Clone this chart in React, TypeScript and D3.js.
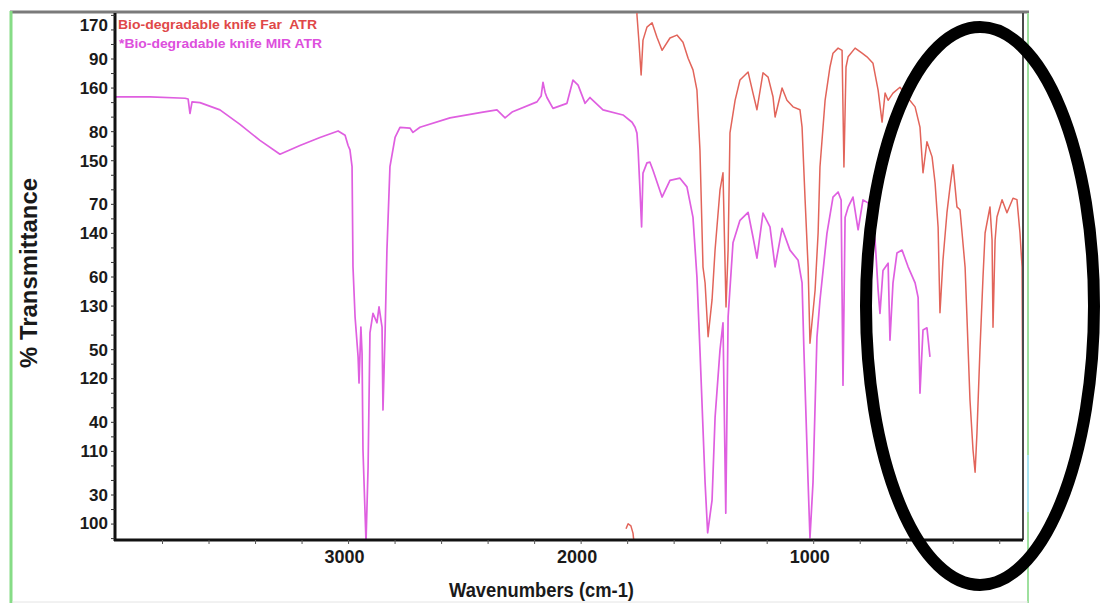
import React from 'react';
import * as d3 from 'd3';

// MIR ATR spectrum: [wavenumber cm-1, %T on MIR scale]
const mirAtr: [number, number][] = [
  [4000, 84.8], [3854, 84.8], [3703, 84.6], [3690, 84.5], [3682, 82.5], [3673, 84.1], [3639, 84.0],
  [3553, 83.0], [3467, 81.0], [3381, 78.8], [3295, 76.9], [3209, 78.1], [3123, 79.2], [3045, 80.1],
  [3015, 79.5], [3002, 78.1], [2994, 77.5], [2985, 75.2], [2981, 61.4], [2972, 54.5], [2959, 49.0],
  [2955, 45.4], [2947, 53.1], [2942, 49.5], [2938, 36.2], [2925, 23.5], [2916, 33.9], [2908, 52.3],
  [2895, 55.0], [2878, 53.7], [2869, 55.9], [2856, 53.1], [2852, 41.7], [2843, 52.3], [2835, 63.7],
  [2822, 75.2], [2800, 79.2], [2779, 80.6], [2736, 80.5], [2723, 79.9], [2693, 80.6], [2564, 81.9],
  [2422, 82.7], [2362, 83.0], [2327, 81.9], [2297, 82.7], [2190, 84.1], [2172, 84.9], [2164, 86.8],
  [2155, 85.4], [2147, 84.7], [2121, 83.2], [2061, 83.9], [2035, 87.1], [2013, 86.4], [1983, 83.9],
  [1962, 84.7], [1906, 83.0], [1820, 82.3], [1781, 81.3], [1768, 80.6], [1760, 79.8], [1755, 77.5],
  [1747, 72.0], [1740, 66.9], [1734, 74.3], [1717, 75.7], [1704, 75.8], [1691, 74.7], [1652, 71.0],
  [1618, 73.3], [1575, 73.6], [1545, 72.4], [1519, 68.2], [1502, 60.0], [1489, 49.9], [1467, 31.7],
  [1456, 24.8], [1437, 29.3], [1424, 40.7], [1403, 49.9], [1390, 53.7], [1378, 27.5], [1368, 54.5],
  [1347, 64.7], [1317, 67.8], [1282, 68.9], [1261, 65.5], [1244, 62.6], [1218, 68.8], [1188, 66.9],
  [1166, 61.4], [1136, 66.7], [1102, 63.7], [1067, 62.3], [1050, 59.2], [1042, 49.9], [1024, 31.7],
  [1016, 24.1], [1003, 31.7], [986, 51.7], [973, 56.8], [943, 66.0], [917, 71.0], [895, 71.7],
  [882, 70.6], [874, 45.1], [865, 68.2], [852, 69.6], [831, 71.0], [809, 66.5], [788, 70.6],
  [766, 70.2], [736, 65.1], [723, 58.2], [715, 55.0], [702, 60.9], [680, 61.9], [672, 51.3],
  [659, 59.2], [642, 63.3], [620, 63.7], [594, 61.4], [564, 59.2], [551, 57.2], [543, 44.0],
  [530, 52.7], [513, 53.0], [500, 49.0],
];

// Far ATR spectrum: short starting fragment, then main trace [wavenumber, %T on Far scale]
const farAtrStart: [number, number][] = [
  [1807, 99.2], [1798, 99.9], [1786, 99.6], [1777, 98.6], [1773, 97.4],
];
const farAtr: [number, number][] = [
  [1760, 171.4], [1760, 170.1], [1751, 166.2], [1742, 161.8], [1734, 166.6], [1717, 168.4],
  [1695, 169.0], [1674, 167.0], [1652, 165.2], [1618, 166.9], [1588, 167.3], [1562, 166.3],
  [1540, 164.1], [1519, 162.5], [1502, 159.7], [1489, 151.4], [1476, 135.3], [1467, 133.1],
  [1454, 125.7], [1437, 130.8], [1424, 137.7], [1403, 145.9], [1390, 148.3], [1377, 129.8],
  [1368, 137.7], [1360, 153.8], [1338, 158.3], [1317, 161.1], [1282, 162.2], [1261, 159.3],
  [1244, 157.0], [1218, 162.1], [1196, 161.5], [1175, 158.8], [1166, 156.0], [1136, 160.0],
  [1115, 158.3], [1089, 157.4], [1059, 157.0], [1050, 154.6], [1037, 144.6], [1024, 135.3],
  [1016, 124.8], [994, 132.1], [981, 140.0], [973, 149.1], [951, 158.3], [930, 162.9],
  [917, 164.8], [895, 165.5], [878, 165.2], [870, 149.1], [861, 162.9], [852, 164.3],
  [822, 165.5], [792, 164.8], [771, 164.3], [745, 163.4], [723, 159.7], [706, 155.3],
  [693, 159.3], [680, 158.3], [659, 159.3], [629, 160.1], [599, 158.8], [564, 157.4],
  [543, 154.6], [530, 148.3], [513, 152.6], [491, 150.5], [478, 146.9], [465, 140.8],
  [457, 129.0], [444, 136.3], [427, 142.8], [414, 146.3], [401, 149.4], [384, 143.6],
  [371, 143.2], [362, 140.0], [349, 135.3], [341, 128.4], [328, 117.0], [315, 110.1],
  [306, 107.0], [298, 112.4], [285, 123.9], [272, 133.9], [263, 140.0], [242, 143.6],
  [233, 139.0], [229, 127.0], [220, 139.0], [212, 142.2], [190, 144.6], [169, 142.8],
  [143, 144.8], [126, 144.6], [113, 140.0], [104, 135.3], [100, 108.7],
];

const xTickLabels = [3000, 2000, 1000];
const xMinorTicks = [3800, 3600, 3400, 3200, 3000, 2800, 2600, 2400, 2200, 2000, 1800, 1600, 1400, 1200, 1000, 800, 600, 400, 200];
const mirTickLabels = [90, 80, 70, 60, 50, 40, 30];
const farTickLabels = [170, 160, 150, 140, 130, 120, 110, 100];
const legendNames = ['Bio-degradable knife Far  ATR', '*Bio-degradable knife MIR ATR'];

const FONT = '"Liberation Sans", Arial, Helvetica, sans-serif';
const PINK = '#df5fe0';
const RED = '#e2645a';

export default function App() {
  const W = 1102;
  const H = 603;
  const plot = { left: 116, right: 1023, top: 13, bottom: 540 };

  const x = d3.scaleLinear().domain([4000, 100]).range([plot.left, plot.right]);
  const yMir = d3.scaleLinear().domain([30, 90]).range([495, 59]);
  const yFar = d3.scaleLinear().domain([100, 160]).range([523, 88]);

  const lineMir = d3.line<[number, number]>().x((d) => x(d[0])).y((d) => yMir(d[1]));
  const lineFar = d3.line<[number, number]>().x((d) => x(d[0])).y((d) => yFar(d[1]));

  const mirMinor = d3.range(24, 97, 2);

  return (
    <svg
      width={W}
      height={H}
      style={{ position: 'absolute', left: 0, top: 0, background: '#fff', display: 'block' }}
      fontFamily={FONT}
    >
      <defs>
        <clipPath id="plotClip">
          <rect x={plot.left} y={plot.top} width={plot.right - plot.left} height={plot.bottom - plot.top} />
        </clipPath>
      </defs>
      <rect x={0} y={0} width={W} height={H} fill="#fff" />

      {/* outer frame pieces */}
      <line x1={10} x2={1029} y1={12} y2={12} stroke="#7a7a7a" strokeWidth={3} />
      <line x1={11} x2={11} y1={11} y2={H} stroke="#86dc86" strokeWidth={3} />
      <line x1={1028} x2={1028} y1={13} y2={H} stroke="#9ee09e" strokeWidth={2} />
      <line x1={1028} x2={1028} y1={455} y2={512} stroke="#a8e4f0" strokeWidth={2} />
      <line x1={12} x2={1028} y1={602} y2={602} stroke="#e4e4e4" strokeWidth={1} />

      {/* spectra */}
      <g clipPath="url(#plotClip)" fill="none" strokeLinejoin="round">
        <path d={lineMir(mirAtr) || ''} stroke={PINK} strokeWidth={1.7} />
        <path d={lineFar(farAtrStart) || ''} stroke={RED} strokeWidth={1.5} />
        <path d={lineFar(farAtr) || ''} stroke={RED} strokeWidth={1.5} />
      </g>

      {/* right plot border */}
      <line x1={plot.right} x2={plot.right} y1={plot.top} y2={plot.bottom} stroke="#4a4a4a" strokeWidth={2} />

      {/* left axis */}
      <line x1={plot.left - 1} x2={plot.left - 1} y1={plot.top} y2={plot.bottom + 1} stroke="#111" strokeWidth={3} />
      {mirMinor.map((v) => (
        <line key={'mm' + v} x1={plot.left - 5} x2={plot.left - 1} y1={yMir(v)} y2={yMir(v)} stroke="#333" strokeWidth={1} />
      ))}
      {mirTickLabels.map((v) => (
        <text key={'mt' + v} x={108} y={yMir(v) + 6} textAnchor="end" fontSize={17} fontWeight="bold" fill="#1a1a1a">
          {v}
        </text>
      ))}
      {farTickLabels.map((v) => (
        <text key={'ft' + v} x={108} y={Math.max(yFar(v), 25) + 6} textAnchor="end" fontSize={17} fontWeight="bold" fill="#1a1a1a">
          {v}
        </text>
      ))}

      {/* bottom axis */}
      <line x1={plot.left - 2} x2={plot.right} y1={plot.bottom} y2={plot.bottom} stroke="#111" strokeWidth={3} />
      {xMinorTicks.map((v) => (
        <line key={'xm' + v} x1={x(v)} x2={x(v)} y1={plot.bottom} y2={plot.bottom + 4} stroke="#555" strokeWidth={1} />
      ))}
      {xTickLabels.map((v) => (
        <text key={'xt' + v} x={x(v) - 4} y={563} textAnchor="middle" fontSize={18} fontWeight="bold" fill="#1a1a1a">
          {v}
        </text>
      ))}

      {/* axis titles */}
      <text
        x={449}
        y={597}
        fontSize={21}
        fontWeight="bold"
        fill="#1a1a1a"
        textLength={185}
        lengthAdjust="spacingAndGlyphs"
      >
        Wavenumbers (cm-1)
      </text>
      <text
        transform="translate(37,368) rotate(-90)"
        x={0}
        y={0}
        fontSize={23}
        fontWeight="bold"
        fill="#1a1a1a"
        textLength={190}
        lengthAdjust="spacingAndGlyphs"
      >
        % Transmittance
      </text>

      {/* legend */}
      <text x={118} y={29} fontSize={13} fontWeight="bold" fill="#e04848" textLength={199} lengthAdjust="spacingAndGlyphs" style={{ whiteSpace: 'pre' }}>
        {legendNames[0]}
      </text>
      <text x={119} y={48} fontSize={13} fontWeight="bold" fill="#dd4fdd" textLength={203} lengthAdjust="spacingAndGlyphs" style={{ whiteSpace: 'pre' }}>
        {legendNames[1]}
      </text>

      {/* annotation ellipse */}
      <ellipse cx={980} cy={306} rx={114} ry={279} fill="none" stroke="#000" strokeWidth={12} />
    </svg>
  );
}
